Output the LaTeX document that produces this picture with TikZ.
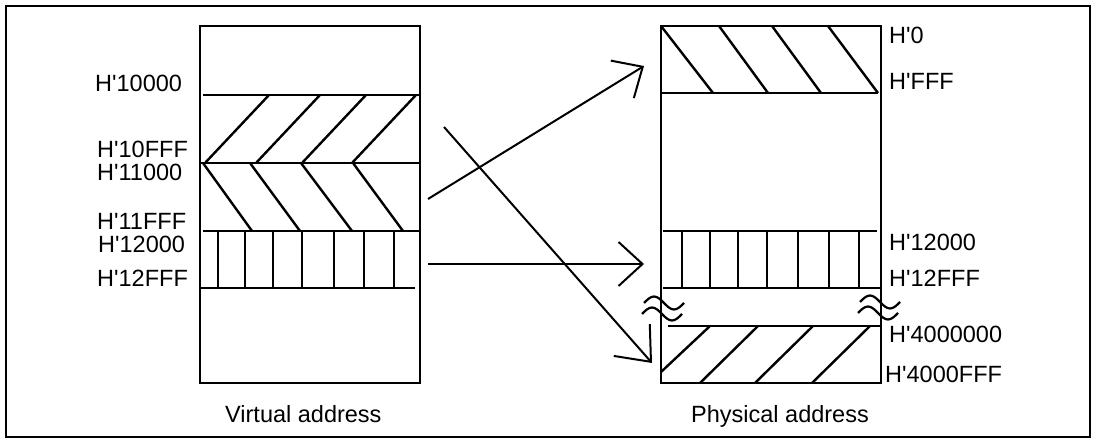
\documentclass[tikz,border=0pt]{standalone}
\usepackage{fontspec}
\setmainfont{Liberation Sans}
\usetikzlibrary{arrows.meta}
\newcommand{\hq}{H\textquotesingle}
\begin{document}
\begin{tikzpicture}[x=1pt,y=-1pt,
  box/.style={line width=2.4pt},
  hatch/.style={line width=2.4pt},
  arr/.style={line width=2pt,-{Straight Barb[length=24pt,width=44pt,line width=2pt]}},
  arrbig/.style={line width=2pt,-{Straight Barb[length=29pt,width=48pt,line width=2pt]}},
  lbl/.style={anchor=base west,inner sep=0pt,text height=17pt,text depth=0pt,font=\fontsize{23.5pt}{26pt}\selectfont},
  wave/.style={line width=2.2pt}]
\useasboundingbox (0,0) rectangle (1102,443);
\draw[box] (6,6) rectangle (1090,437);

% left box
\draw[box] (200,26) rectangle (420,383);
\draw[box] (203,95) -- (419,95);
\draw[box] (200,163) -- (420,163);
\draw[box] (203,231) -- (419,231);
\draw[box] (200,288) -- (415,288);
\foreach \a/\b in {205/269,256/320,302/366,352/416} \draw[hatch] (\a,163) -- (\b,95);
\foreach \a/\b in {203/252,250/300,301/352,353/403} \draw[hatch] (\a,163) -- (\b,231);
\foreach \a in {218,245,273,302,334,364,394} \draw[hatch] (\a,231) -- (\a,288);

% right box
\draw[box] (661,26) rectangle (881,383);
\draw[box] (661,93) -- (878,93);
\draw[box] (663,231) -- (877,231);
\draw[box] (663,288) -- (880,288);
\draw[box] (668,326) -- (881,326);
\foreach \a/\b in {661/713,719/768,772/821,828/878} \draw[hatch] (\a,26) -- (\b,93);
\foreach \a in {682,710,738,767,798,829,859} \draw[hatch] (\a,231) -- (\a,288);
\draw[hatch] (661,372) -- (710,326);
\foreach \a/\b in {700/758,755/813,812/870} \draw[hatch] (\a,383) -- (\b,326);

% break marks
\foreach \x/\y in {644/303,642/314,860/302,858/313}
  \draw[wave] (\x,\y) sin ++(10,-6.5) cos ++(10,6.5) sin ++(10,6.5) cos ++(10,-6.5);

% arrows
\coordinate (s1) at (428,199); \coordinate (e1) at (644,66);
\coordinate (s2) at (428,264); \coordinate (e2) at (644,264);
\coordinate (s3) at (444,127); \coordinate (e3) at (652,363);
\draw[arr] (s1) -- (e1);
\draw[arr] (s2) -- (e2);
\draw[arrbig] (s3) -- (e3);

% labels
\node[lbl] (l1) at (95,92) {\hq10000};
\node[lbl] (l2) at (97,158) {\hq10FFF};
\node[lbl] (l3) at (97,181) {\hq11000};
\node[lbl] (l4) at (97,230) {\hq11FFF};
\node[lbl] (l5) at (98,253) {\hq12000};
\node[lbl] (l6) at (97,287) {\hq12FFF};
\node[lbl] (r1) at (889,44) {\hq0};
\node[lbl] (r2) at (889,90) {\hq FFF};
\node[lbl] (r3) at (889,251) {\hq12000};
\node[lbl] (r4) at (889,287) {\hq12FFF};
\node[lbl] (r5) at (889,342) {\hq4000000};
\node[lbl] (r6) at (885,382) {\hq4000FFF};
\node[lbl] (va) at (225,422) {Virtual address};
\node[lbl] (pa) at (691,422) {Physical address};
\end{tikzpicture}
\end{document}
